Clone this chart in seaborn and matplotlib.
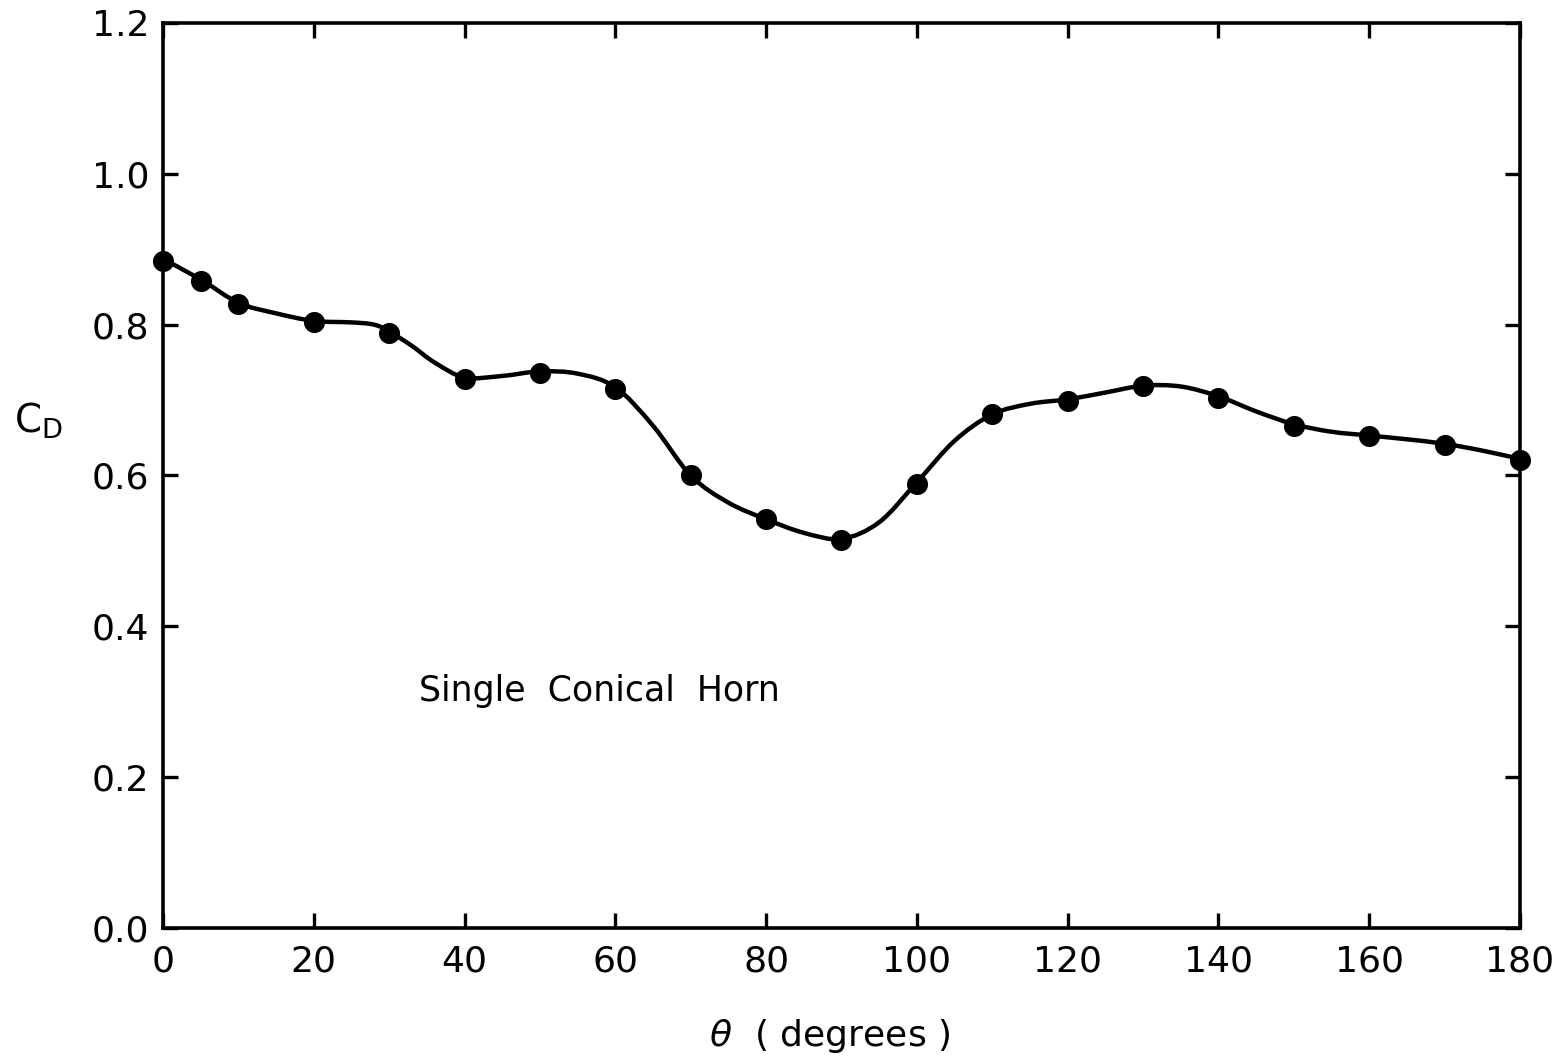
import numpy as np
import pandas as pd
import seaborn as sns
import matplotlib
matplotlib.use("Agg")
import matplotlib.pyplot as plt
from matplotlib.path import Path
from matplotlib.patches import PathPatch

# measured points
theta_pts = [0, 5, 10, 20, 30, 40, 50, 60, 70, 80, 90, 100, 110, 120, 130, 140, 150, 160, 170, 180]
cd_pts = [0.885, 0.858, 0.827, 0.804, 0.789, 0.728, 0.736, 0.715, 0.600, 0.542,
          0.515, 0.589, 0.681, 0.699, 0.719, 0.703, 0.666, 0.652, 0.641, 0.621]

# faired curve
theta_curve = [0, 5, 10, 15, 20, 25, 28, 30, 33, 36, 40, 45, 50, 55, 60, 65, 70, 75, 80,
               85, 90, 95, 100, 105, 110, 115, 120, 125, 130, 135, 140, 145, 150,
               155, 160, 165, 170, 175, 180]
cd_curve = [0.887, 0.860, 0.829, 0.815, 0.805, 0.803, 0.800, 0.791, 0.772, 0.750, 0.730,
            0.732, 0.738, 0.735, 0.717, 0.666, 0.600, 0.564, 0.542, 0.524, 0.516,
            0.538, 0.591, 0.646, 0.681, 0.695, 0.701, 0.710, 0.719, 0.718, 0.705,
            0.685, 0.668, 0.658, 0.653, 0.648, 0.642, 0.633, 0.622]

x_ticks = [0, 20, 40, 60, 80, 100, 120, 140, 160, 180]
y_ticks = [0.0, 0.2, 0.4, 0.6, 0.8, 1.0, 1.2]
y_ticklabels = ["0.0", "0.2", "0.4", "0.6", "0.8", "1.0", "1.2"]

sns.set_theme(style="ticks")
plt.rcParams["font.family"] = ["DejaVu Sans"]
plt.rcParams["text.color"] = "black"

fig = plt.figure(figsize=(15.66, 10.59), dpi=100)
ax = fig.add_axes([0.1041, 0.1237, 0.9706 - 0.1041, 0.9783 - 0.1237])

# smooth curve through curve knots (Catmull-Rom -> cubic Bezier)
P = np.column_stack([theta_curve, cd_curve]).astype(float)
verts = [tuple(P[0])]
codes = [Path.MOVETO]
for i in range(len(P) - 1):
    p0 = P[i - 1] if i > 0 else P[i]
    p1 = P[i]
    p2 = P[i + 1]
    p3 = P[i + 2] if i + 2 < len(P) else P[i + 1]
    c1 = p1 + (p2 - p0) / 6.0
    c2 = p2 - (p3 - p1) / 6.0
    verts += [tuple(c1), tuple(c2), tuple(p2)]
    codes += [Path.CURVE4, Path.CURVE4, Path.CURVE4]
patch = PathPatch(Path(verts, codes), facecolor="none", edgecolor="black", lw=3.2,
                  capstyle="round", joinstyle="round", clip_on=False)
ax.add_patch(patch)

df = pd.DataFrame({"theta": theta_pts, "cd": cd_pts})
sns.scatterplot(data=df, x="theta", y="cd", ax=ax, s=230, color="black",
                edgecolor="black", linewidth=0, zorder=5, clip_on=False)

ax.set_xlim(0, 180)
ax.set_ylim(0, 1.2)
ax.set_xticks(x_ticks)
ax.set_yticks(y_ticks)
ax.set_yticklabels(y_ticklabels)
ax.tick_params(axis="both", which="both", direction="in", length=11, width=2.4,
               top=True, right=True, labelsize=26, colors="black", pad=10)
ax.tick_params(axis="x", pad=12)
for s in ax.spines.values():
    s.set_linewidth(2.6)
    s.set_color("black")

ax.set_xlabel("")
ax.set_ylabel("")
fig.text(0.53, 0.022, r"$\theta$  ( degrees )", ha="center", va="center", fontsize=26,
         color="black")
fig.text(0.009, 0.603, r"C$_{\mathrm{D}}$", ha="left", va="center", fontsize=28,
         color="black")

ax.text(34, 0.314, "Single  Conical  Horn", ha="left", va="center", fontsize=25,
        color="black")

fig.savefig("out.png", dpi=100)
